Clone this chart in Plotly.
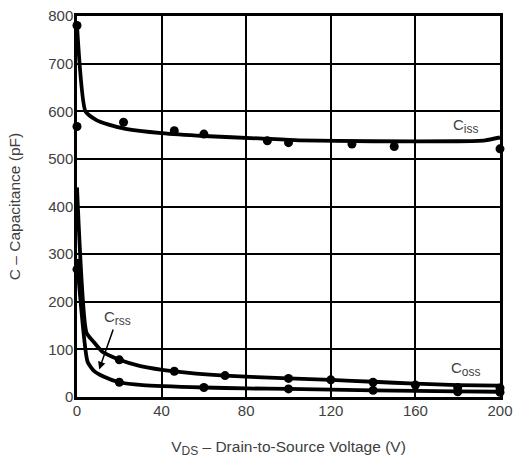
import plotly.graph_objects as go

# Curves
ciss_x = [0, 4, 9, 15, 23, 40, 60, 86, 105, 140, 180, 193, 200]
ciss_y = [780, 600, 582, 572, 563, 554, 548, 543, 539, 537, 537, 539, 545]
coss_x = [0, 4.5, 8, 12, 20, 30, 46, 70, 100, 120, 140, 160, 180, 200]
coss_y = [440, 135, 115, 95, 78, 65, 54, 45, 39, 36, 32, 28, 25, 24]
crss_x = [0, 5, 8, 12.5, 20, 31, 60, 80, 100, 140, 160, 180, 200]
crss_y = [290, 74, 55, 43, 31, 25, 20, 18, 17, 14, 13, 12, 11]

# Measured dots
dots_x = [0, 0, 22, 46, 60, 90, 100, 130, 150, 200,
          0, 20, 46, 70, 100, 120, 140, 160, 180, 200,
          20, 60, 100, 140, 180, 200]
dots_y = [780, 568, 577, 559, 552, 538, 534, 531, 526, 521,
          268, 78, 54, 45, 39, 36, 31, 25, 20, 19,
          31, 20, 17, 14, 11, 10]

x_ticks = [0, 40, 80, 120, 160, 200]
y_ticks = [0, 100, 200, 300, 400, 500, 600, 700, 800]

fig = go.Figure()
for xs, ys in [(ciss_x, ciss_y), (coss_x, coss_y), (crss_x, crss_y)]:
    fig.add_trace(go.Scatter(x=xs, y=ys, mode="lines",
                             line=dict(color="black", width=3.8, shape="spline", smoothing=0.5),
                             cliponaxis=False, hoverinfo="skip"))
fig.add_trace(go.Scatter(x=dots_x, y=dots_y, mode="markers",
                         marker=dict(color="black", size=9), cliponaxis=False))

fam = "Liberation Sans, Arial, sans-serif"
font = dict(family=fam, size=15, color="#404040")
tfont = dict(family=fam, size=15.5, color="#404040")


def sub(main, s):
    return f"{main}<sub><span style='font-size:12px'>{s}</span></sub>"


fig.add_annotation(x=184, y=568, text=sub("C", "iss"), showarrow=False, font=font)
fig.add_annotation(x=184, y=58, text=sub("C", "oss"), showarrow=False, font=font)
fig.add_annotation(x=10.5, y=58, ax=19, ay=166, axref="x", ayref="y",
                   text=sub("C", "rss"), showarrow=True, arrowhead=2, arrowsize=1,
                   arrowwidth=1.5, arrowcolor="black", standoff=0, font=font)

fig.update_layout(
    width=513, height=461,
    margin=dict(l=77, r=13, t=16, b=64),
    plot_bgcolor="white", paper_bgcolor="white",
    showlegend=False, font=font,
)
fig.update_xaxes(range=[0, 200], tickvals=x_ticks, showgrid=True, gridcolor="black", gridwidth=2,
                 showline=True, linecolor="black", linewidth=2.5, mirror=True, zeroline=False,
                 ticks="", tickfont=font, automargin=False, ticklabelstandoff=-2,
                 ticklabeloverflow="allow",
                 title=dict(text=sub("V", "DS") + " – Drain-to-Source Voltage (V)", font=tfont, standoff=24))
fig.update_yaxes(range=[0, 800], tickvals=y_ticks, showgrid=True, gridcolor="black", gridwidth=2,
                 showline=True, linecolor="black", linewidth=2.5, mirror=True, zeroline=False,
                 ticks="", tickfont=font, automargin=False, ticklabelstandoff=-2,
                 ticklabeloverflow="allow",
                 title=dict(text="C – Capacitance (pF)", font=tfont, standoff=24))

fig.write_html("out.html", config={"displayModeBar": False},
               post_script="document.body.style.margin='0';document.body.style.overflow='hidden';")
